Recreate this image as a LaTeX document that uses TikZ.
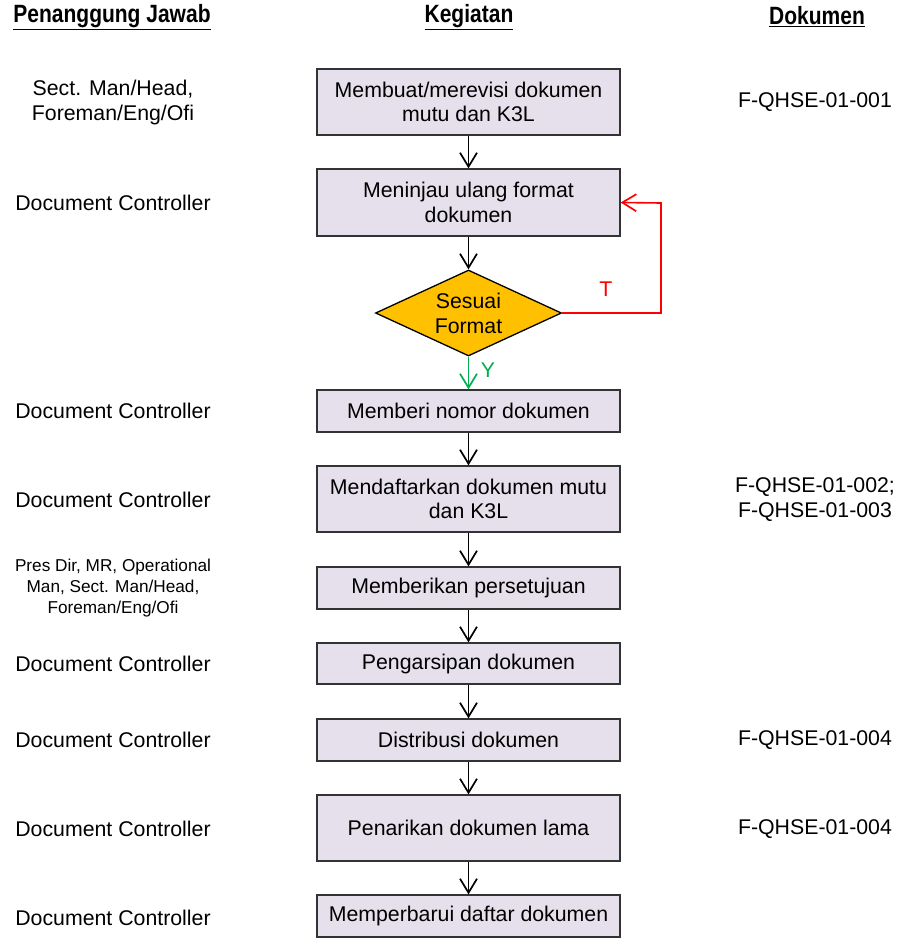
\documentclass[tikz,border=0pt]{standalone}
\usepackage{fontspec}
\setmainfont{Liberation Sans}
\newfontfamily\headfont[FakeStretch=0.84]{Liberation Sans}
\usetikzlibrary{arrows.meta,shapes.geometric}
\definecolor{boxfill}{HTML}{E5E0EC}
\definecolor{diafill}{HTML}{FFC000}
\definecolor{yesgreen}{HTML}{00B050}
\definecolor{nored}{HTML}{FF0000}
\begin{document}
\begin{tikzpicture}[x=1pt,y=-1pt,
  stepbox/.style={draw=black!80,line width=1.3pt,fill=boxfill,minimum width=303pt,align=center,font=\fontsize{21.3}{24.5}\selectfont,inner sep=0pt},
  decide/.style={diamond,draw=black,line width=1.3pt,fill=diafill,minimum width=186pt,minimum height=86pt,inner sep=0pt,align=center,font=\fontsize{21.3}{25}\selectfont,aspect=2.16},
  who/.style={align=center,font=\fontsize{21.3}{25}\selectfont},
  whosmall/.style={align=center,font=\fontsize{17.2}{21}\selectfont},
  doc/.style={align=center,font=\fontsize{21.3}{25}\selectfont},
  head/.style={font=\headfont\bfseries\fontsize{25}{28}\selectfont},
  tip/.style={-{Straight Barb[length=14pt,width=17pt,line width=1.7pt]}},
  flow/.style={tip,line width=1.9pt,black},
]
\useasboundingbox (0,0) rectangle (901,938);
% headers
\node[head] (h1) at (112,17) {\underline{Penanggung Jawab}};
\node[head] (h2) at (469,17) {\underline{Kegiatan}};
\node[head] (h3) at (817,17) {\underline{Dokumen}};
% boxes
\node[stepbox,minimum height=66pt] (b1) at (468.5,102) {Membuat/merevisi dokumen\\mutu dan K3L};
\node[stepbox,minimum height=67pt] (b2) at (468.5,202.5) {Meninjau ulang format\\dokumen};
\node[decide] (d) at (468.5,313) {Sesuai\\Format};
\node[stepbox,minimum height=42pt] (b3) at (468.5,411) {Memberi nomor dokumen};
\node[stepbox,minimum height=66pt] (b4) at (468.5,499) {Mendaftarkan dokumen mutu\\dan K3L};
\node[stepbox,minimum height=42pt] (b5) at (468.5,588) {Memberikan persetujuan};
\node[stepbox,minimum height=41pt] (b6) at (468.5,663.5) {Pengarsipan dokumen};
\node[stepbox,minimum height=42pt] (b7) at (468.5,740) {Distribusi dokumen};
\node[stepbox,minimum height=66pt] (b8) at (468.5,828) {Penarikan dokumen lama};
\node[stepbox,minimum height=42pt] (b9) at (468.5,916) {Memperbarui daftar dokumen};
% arrows
\draw[flow] (b1) -- (b2);
\draw[flow] (b2) -- (d);
\draw[flow,yesgreen] (d.south) -- (b3.north) node[pos=0.4,right=8pt,font=\fontsize{21.3}{24}\selectfont] (y) {Y};
\coordinate (c1) at (661,313);
\coordinate (c2) at (661,203);
\draw[nored,line width=1.6pt,tip] (d.east) -- (c1) -- (c2) -- (b2.east);
\node[nored,font=\fontsize{21.3}{24}\selectfont] (t) at (606,289) {T};
\draw[flow] (b3) -- (b4);
\draw[flow] (b4) -- (b5);
\draw[flow] (b5) -- (b6);
\draw[flow] (b6) -- (b7);
\draw[flow] (b7) -- (b8);
\draw[flow] (b8) -- (b9);
% left column
\node[who] (w1) at (113,102) {Sect. Man/Head,\\Foreman/Eng/Ofi};
\node[who] (w2) at (113,203) {Document Controller};
\node[who] (w3) at (113,411) {Document Controller};
\node[who] (w4) at (113,500) {Document Controller};
\node[whosmall] (w5) at (113,588) {Pres Dir, MR, Operational\\Man, Sect. Man/Head,\\Foreman/Eng/Ofi};
\node[who] (w6) at (113,664) {Document Controller};
\node[who] (w7) at (113,740) {Document Controller};
\node[who] (w8) at (113,829) {Document Controller};
\node[who] (w9) at (113,918) {Document Controller};
% right column
\node[doc] (r1) at (815,102) {F-QHSE-01-001};
\node[doc] (r4) at (815,500) {F-QHSE-01-002;\\F-QHSE-01-003};
\node[doc] (r7) at (815,740) {F-QHSE-01-004};
\node[doc] (r8) at (815,829) {F-QHSE-01-004};
\end{tikzpicture}
\end{document}
